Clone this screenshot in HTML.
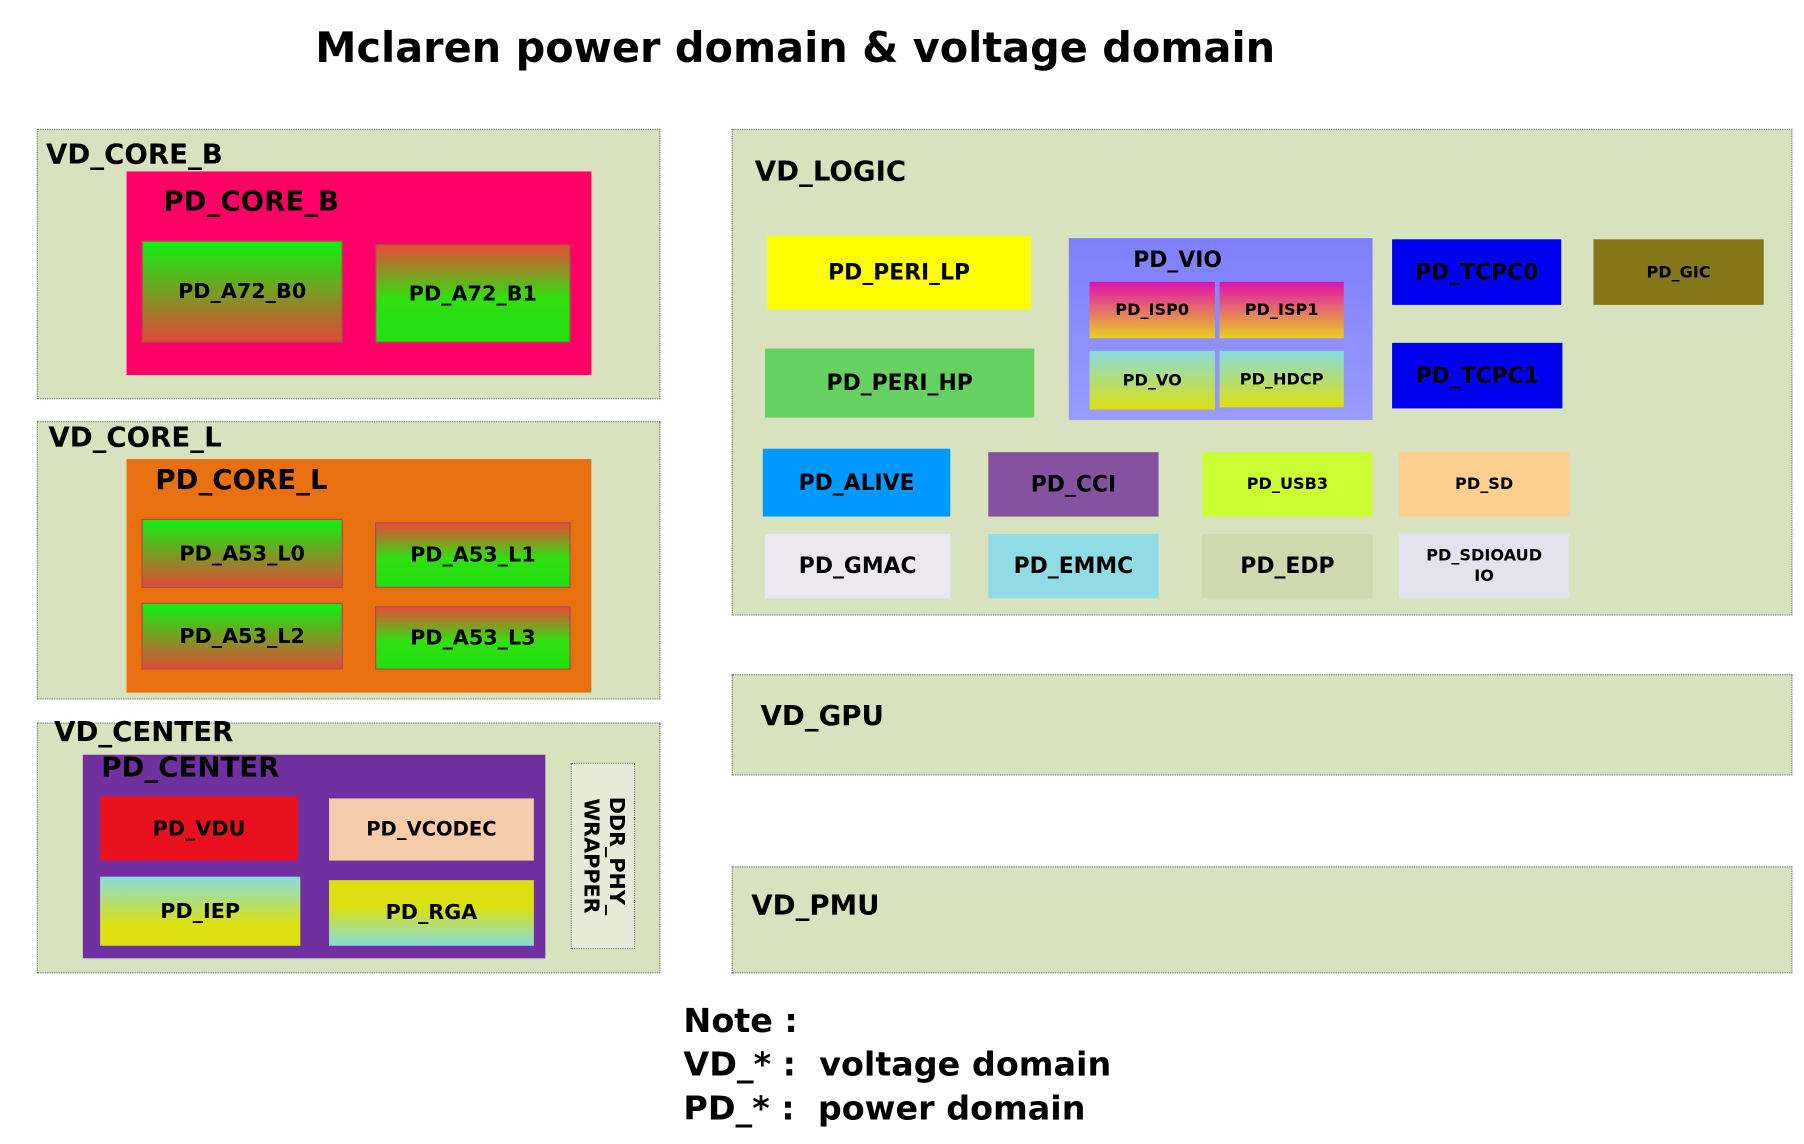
<!DOCTYPE html>
<html><head><meta charset="utf-8">
<style>
html,body{margin:0;padding:0;background:#fff;width:1804px;height:1144px;overflow:hidden}
#w{position:absolute;left:0;top:0;width:1568px;height:994px;transform:scale(1.1505);transform-origin:0 0;font-family:"DejaVu Sans","Liberation Sans",sans-serif;font-weight:bold;color:#000}
.a{position:absolute;box-sizing:border-box}
.vd{background:#d8e2bf;border:1px dotted #777}
.c{display:flex;align-items:center;justify-content:center;text-align:center}
.t{position:absolute;white-space:nowrap}
.gr{background:linear-gradient(#10f010,#e04a36)}
.rg{background:linear-gradient(#e84a36,#30e010 55%,#20e010)}
</style></head><body><div id="w">
<div class="t" style="left:274px;top:22px;font-size:36px">Mclaren power domain &amp; voltage domain</div>

<!-- VD_CORE_B -->
<div class="a vd" style="left:32px;top:112px;width:542px;height:235px"></div>
<div class="t" style="left:40px;top:120px;font-size:24px">VD_CORE_B</div>
<div class="a" style="left:110px;top:149px;width:404px;height:177px;background:#ff0066"></div>
<div class="t" style="left:142px;top:161px;font-size:24px">PD_CORE_B</div>
<div class="a c gr" style="left:123px;top:209px;width:175px;height:89px;font-size:18px;border:1px solid #a05050">PD_A72_B0</div>
<div class="a c rg" style="left:326px;top:212px;width:170px;height:86px;font-size:18px;border:1px solid #a05050">PD_A72_B1</div>

<!-- VD_CORE_L -->
<div class="a vd" style="left:32px;top:366px;width:542px;height:242px"></div>
<div class="t" style="left:42px;top:366px;font-size:24px">VD_CORE_L</div>
<div class="a" style="left:110px;top:399px;width:404px;height:203px;background:#e8700e"></div>
<div class="t" style="left:135px;top:403px;font-size:24px">PD_CORE_L</div>
<div class="a c gr" style="left:123px;top:451px;width:175px;height:60px;font-size:18px;border:1px solid #a05050">PD_A53_L0</div>
<div class="a c rg" style="left:326px;top:454px;width:170px;height:57px;font-size:18px;border:1px solid #a05050">PD_A53_L1</div>
<div class="a c gr" style="left:123px;top:524px;width:175px;height:58px;font-size:18px;border:1px solid #a05050">PD_A53_L2</div>
<div class="a c rg" style="left:326px;top:527px;width:170px;height:55px;font-size:18px;border:1px solid #a05050">PD_A53_L3</div>

<!-- VD_CENTER -->
<div class="a vd" style="left:32px;top:628px;width:542px;height:218px"></div>
<div class="t" style="left:47px;top:622px;font-size:24px">VD_CENTER</div>
<div class="a" style="left:72px;top:656px;width:402px;height:177px;background:#7030a0"></div>
<div class="t" style="left:88px;top:653px;font-size:24px">PD_CENTER</div>
<div class="a c" style="left:87px;top:692px;width:172px;height:56px;background:#e8101e;font-size:18px">PD_VDU</div>
<div class="a c" style="left:286px;top:694px;width:178px;height:54px;background:#f4ccaa;font-size:17px">PD_VCODEC</div>
<div class="a c" style="left:87px;top:762px;width:174px;height:60px;background:linear-gradient(#88dcdc,#dce010 70%);font-size:18px">PD_IEP</div>
<div class="a c" style="left:286px;top:765px;width:178px;height:57px;background:linear-gradient(#dce010 40%,#88dcdc);font-size:18px">PD_RGA</div>
<div class="a" style="left:496px;top:663px;width:56px;height:162px;border:1px dotted #777;background:#e6ead6"></div>
<div class="t" style="left:524px;top:744px;font-size:18px;line-height:22px;text-align:center;transform:translate(-50%,-50%) rotate(90deg)">DDR_PHY_<br>WRAPPER</div>

<!-- VD_LOGIC -->
<div class="a vd" style="left:636px;top:112px;width:922px;height:423px"></div>
<div class="t" style="left:656px;top:135px;font-size:24px">VD_LOGIC</div>
<div class="a c" style="left:667px;top:205px;width:229px;height:64px;background:#ffff00;font-size:19px">PD_PERI_LP</div>
<div class="a c" style="left:665px;top:303px;width:234px;height:60px;background:#66d060;font-size:19px">PD_PERI_HP</div>
<div class="a" style="left:929px;top:207px;width:264px;height:158px;background:linear-gradient(#7e7ef8,#9a9aff)"></div>
<div class="t" style="left:985px;top:215px;font-size:19px">PD_VIO</div>
<div class="a c" style="left:947px;top:245px;width:109px;height:49px;background:linear-gradient(#e010b0,#e8d020);font-size:14px">PD_ISP0</div>
<div class="a c" style="left:1060px;top:245px;width:108px;height:49px;background:linear-gradient(#e010b0,#e8d020);font-size:14px">PD_ISP1</div>
<div class="a c" style="left:947px;top:305px;width:109px;height:51px;background:linear-gradient(#88dcdc,#dce010);font-size:14px">PD_VO</div>
<div class="a c" style="left:1060px;top:305px;width:108px;height:49px;background:linear-gradient(#88dcdc,#dce010);font-size:14px">PD_HDCP</div>
<div class="a c" style="left:1210px;top:208px;width:147px;height:57px;background:#0000f0;font-size:19px">PD_TCPC0</div>
<div class="a c" style="left:1210px;top:298px;width:148px;height:57px;background:#0000f0;font-size:19px">PD_TCPC1</div>
<div class="a c" style="left:1385px;top:208px;width:148px;height:57px;background:#857618;font-size:14px">PD_GIC</div>
<div class="a c" style="left:663px;top:390px;width:163px;height:59px;background:#0099ff;font-size:19px">PD_ALIVE</div>
<div class="a c" style="left:859px;top:393px;width:148px;height:56px;background:#8552a0;font-size:19px">PD_CCI</div>
<div class="a c" style="left:1045px;top:393px;width:148px;height:56px;background:#ccff33;font-size:14px">PD_USB3</div>
<div class="a c" style="left:1216px;top:393px;width:148px;height:56px;background:#fdd090;font-size:14px">PD_SD</div>
<div class="a c" style="left:665px;top:464px;width:161px;height:56px;background:#ece8f0;font-size:19px">PD_GMAC</div>
<div class="a c" style="left:859px;top:464px;width:148px;height:56px;background:#90dce4;font-size:19px">PD_EMMC</div>
<div class="a c" style="left:1045px;top:464px;width:148px;height:56px;background:#d0d8b0;font-size:19px">PD_EDP</div>
<div class="a c" style="left:1216px;top:464px;width:148px;height:56px;background:#e4e2ee;font-size:14px;line-height:18px">PD_SDIOAUD<br>IO</div>

<!-- VD_GPU / PMU -->
<div class="a vd" style="left:636px;top:586px;width:922px;height:88px"></div>
<div class="t" style="left:661px;top:608px;font-size:24px">VD_GPU</div>
<div class="a vd" style="left:636px;top:753px;width:922px;height:93px"></div>
<div class="t" style="left:653px;top:773px;font-size:24px">VD_PMU</div>

<div class="t" style="left:594px;top:868px;font-size:29px;line-height:38px">Note :<br>VD_* :&nbsp; voltage domain<br>PD_* :&nbsp; power domain</div>
</div></body></html>
